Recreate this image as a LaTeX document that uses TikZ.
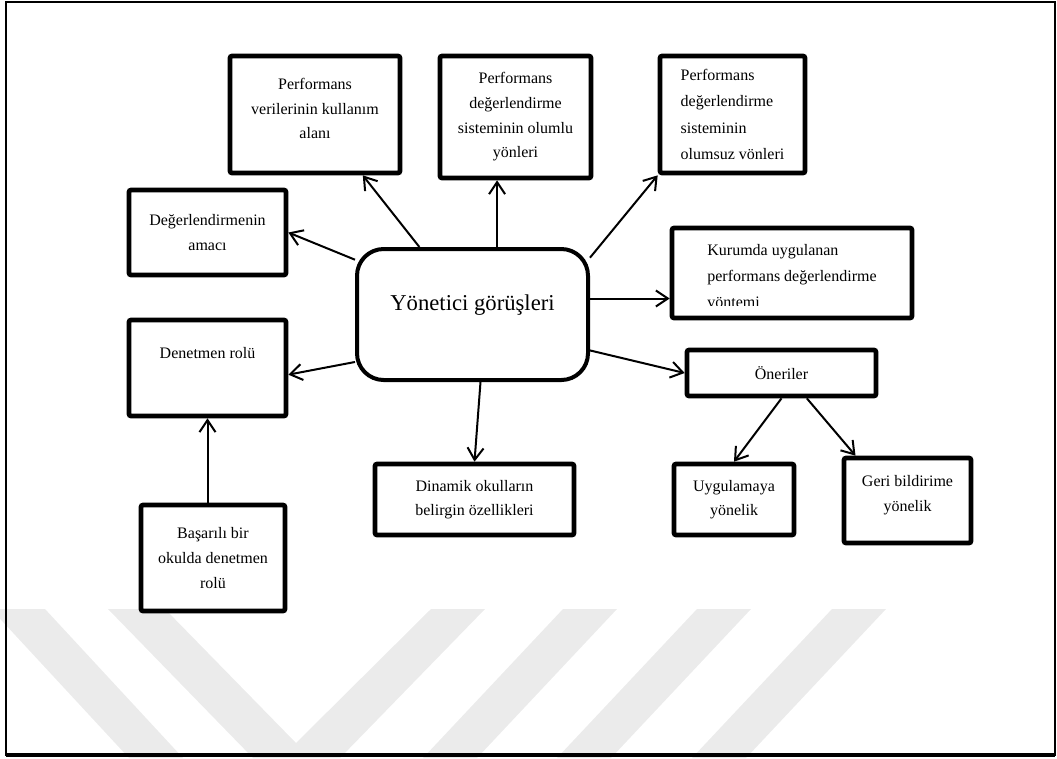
\documentclass[tikz,border=0pt]{standalone}
\usepackage{fontspec}
\setmainfont{Liberation Serif}
\usetikzlibrary{arrows.meta,positioning}

\begin{document}
\begin{tikzpicture}[x=0.75pt,y=-0.75pt,
    kutu/.style={draw, line width=3.5pt, rounded corners=1.5pt, align=center,
      font=\fontsize{12}{18.5}\selectfont, inner sep=2pt},
    ok/.style={line width=1.5pt, -{Straight Barb[length=9pt,width=12pt]}},
    filigran/.style={fill=black!8}]

    \useasboundingbox (0,0) rectangle (1057,758);
    % filigran
    \fill[filigran] (-9,609) -- (45,609) -- (183,758) -- (129,758) -- cycle;
    \fill[filigran] (108,609) -- (165,609) -- (296,743) -- (431,609) -- (485,609)
      -- (340,758) -- (253,758) -- cycle;
    \foreach \a in {563,697,832}
      \fill[filigran] (\a,609) -- (\a+54,609) -- (\a-86,758) -- (\a-140,758) -- cycle;
    % cerceve
    \draw[line width=1.2pt] (6,2) rectangle (1055,755);
    \draw[line width=2.5pt] (6,755) -- (1055,755);

    \node[kutu, line width=3pt, rounded corners=20pt, minimum width=173.25pt,
      minimum height=98.25pt, font=\fontsize{17}{20}\selectfont, text depth=18pt]
      (yonetici) at (472.5,314.5) {Yönetici görüşleri};

    \node[kutu, minimum width=127.5pt, minimum height=87.75pt, text depth=9pt]
      (verileri) at (315,114.5) {Performans\\verilerinin kullanım\\alanı};
    \node[kutu, minimum width=113.25pt, minimum height=91.5pt] (olumlu) at (515.5,117)
      {Performans\\değerlendirme\\sisteminin olumlu\\yönleri};
    \node[kutu, align=left, minimum width=108.75pt, minimum height=87.75pt,
      font=\fontsize{12}{19.7}\selectfont] (olumsuz) at (732.5,114.5)
      {Performans\\değerlendirme\\sisteminin\\olumsuz vönleri};
    \node[kutu, minimum width=117.75pt, minimum height=63.75pt]
      (amaci) at (207.5,232.5) {Değerlendirmenin\\amacı};
    \node[kutu, minimum width=180pt, minimum height=67.5pt] (kurum) at (792,273) {};
    \begin{scope}
      \clip ([xshift=2pt,yshift=-2pt]kurum.north west) rectangle ([xshift=-2pt,yshift=11.5pt]kurum.south east);
      \node[align=left, inner sep=0pt, anchor=north, font=\fontsize{12}{19.5}\selectfont]
        (kurumyazi) at ([yshift=-13.5pt]kurum.north)
        {Kurumda uygulanan\\performans değerlendirme\\vöntemi};
    \end{scope}
    \node[kutu, minimum width=141.75pt, minimum height=34.5pt] (oneriler) at (781.5,373) {Öneriler};
    \node[kutu, minimum width=117.75pt, minimum height=72pt, text depth=22pt]
      (denetmen) at (207.5,368) {Denetmen rolü};
    \node[kutu, minimum width=108pt, minimum height=79.5pt] (basarili) at (213,558)
      {Başarılı bir\\okulda denetmen\\rolü};
    \node[kutu, minimum width=149.25pt, minimum height=53.25pt] (dinamik) at (474.5,499.5)
      {Dinamik okulların\\belirgin özellikleri};
    \node[kutu, minimum width=90pt, minimum height=53.25pt] (uygulama) at (734,499.5)
      {Uygulamaya\\yönelik};
    \node[kutu, minimum width=95.25pt, minimum height=63.75pt, text depth=10.5pt]
      (geri) at (907.5,500.5) {Geri bildirime\\yönelik};

    \draw[ok] (yonetici) -- (verileri);
    \draw[ok] (yonetici.70) -- (yonetici.70 |- olumlu.south);
    \draw[ok] ([yshift=-8pt]yonetici.north east) -- (olumsuz.south west);
    \draw[ok] (yonetici.155) -- (amaci.east);
    \draw[ok] ([yshift=12pt]yonetici.east) -- ([yshift=12pt]yonetici.east -| kurum.west);
    \draw[ok] (yonetici.343) -- (oneriler.west);
    \draw[ok] (yonetici.202) -- ([yshift=-5pt]denetmen.east);
    \draw[ok] ([xshift=6pt]yonetici.south) -- (dinamik.north);
    \draw[ok] (denetmen.south |- basarili.north) -- (denetmen.south);
    \draw[ok] (oneriler.south) -- (uygulama.north);
    \draw[ok] ([xshift=19pt]oneriler.south) -- ([xshift=-39pt]geri.north);
\end{tikzpicture}
\end{document}
